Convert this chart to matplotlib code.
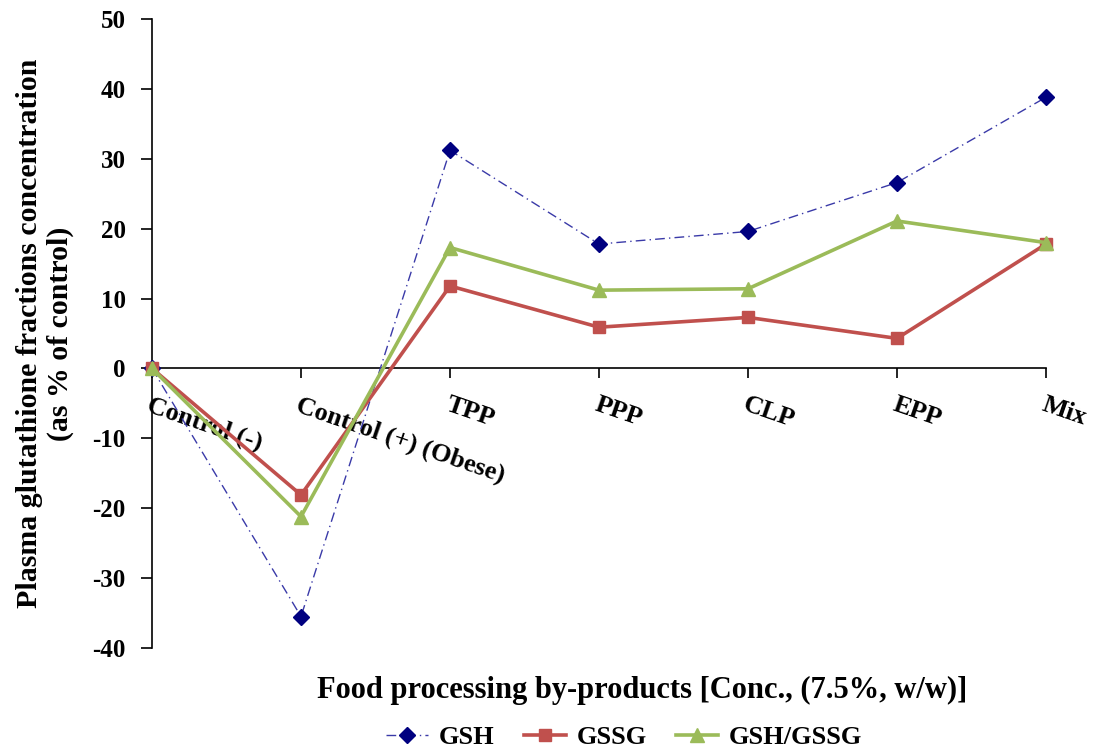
import matplotlib
matplotlib.use("Agg")
import matplotlib.pyplot as plt

categories = ["Control (-)", "Control (+) (Obese)", "TPP", "PPP", "CLP", "EPP", "Mix"]
gsh = [0, -35.5, 31.2, 17.8, 19.6, 26.6, 38.8]
gssg = [0, -18.1, 11.8, 5.9, 7.3, 4.3, 17.8]
ratio = [0, -21.2, 17.3, 11.2, 11.4, 21.1, 18.0]
yticks = [-40, -30, -20, -10, 0, 10, 20, 30, 40, 50]

plt.rcParams['font.family'] = ['Liberation Serif', 'DejaVu Serif']
plt.rcParams['font.weight'] = 'bold'

fig = plt.figure(figsize=(10.94, 7.49), dpi=100)
ax = fig.add_axes([152/1094, 1 - 648/749, (1046 - 152)/1094, (648 - 19)/749])

ax.spines['top'].set_visible(False)
ax.spines['right'].set_visible(False)
ax.spines['bottom'].set_position(('data', 0))
ax.spines['bottom'].set_linewidth(1.2)
ax.spines['left'].set_linewidth(1.2)

x = list(range(len(categories)))
ax.plot(x, gsh, color='#3a3aa8', lw=1.0, ls=(0, (7, 3, 1, 3)), marker='D',
        ms=8, mfc='#000080', mec='#000080', label='GSH', clip_on=False, zorder=3)
ax.plot(x, gssg, color='#C0504D', lw=2.6, marker='s', ms=9,
        label='GSSG', clip_on=False, zorder=4)
ax.plot(x, ratio, color='#9BBB59', lw=2.6, marker='^', ms=10,
        label='GSH/GSSG', clip_on=False, zorder=5)

ax.set_xlim(0, 6)
ax.set_ylim(-40, 50)
ax.set_yticks(yticks)
ax.set_yticklabels([str(v) for v in yticks], fontsize=18, fontweight='bold')
ax.set_xticks(x)
ax.set_xticklabels(categories, fontsize=19, fontweight='bold', rotation=-19,
                   ha='left', va='top', rotation_mode='anchor')
ax.tick_params(axis='y', direction='out', length=8, width=1.2, pad=11)
ax.tick_params(axis='x', direction='out', length=7, width=1.2, pad=11)

ax.set_ylabel("Plasma glutathione fractions concentration\n(as % of control)",
              fontsize=21.5, fontweight='bold', linespacing=1.2)
ax.yaxis.set_label_coords(-0.087, 0.5)
fig.text(642 / 1094, 1 - 690 / 749,
         "Food processing by-products [Conc., (7.5%, w/w)]",
         fontsize=22, fontweight='bold', ha='center', va='center')

leg = fig.legend(loc='center', bbox_to_anchor=(624 / 1094, 1 - 737 / 749), ncol=3,
                 frameon=False, handlelength=1.6, columnspacing=1.1,
                 handletextpad=0.4, prop={'weight': 'bold', 'size': 19})

fig.savefig("out.png", dpi=100)
